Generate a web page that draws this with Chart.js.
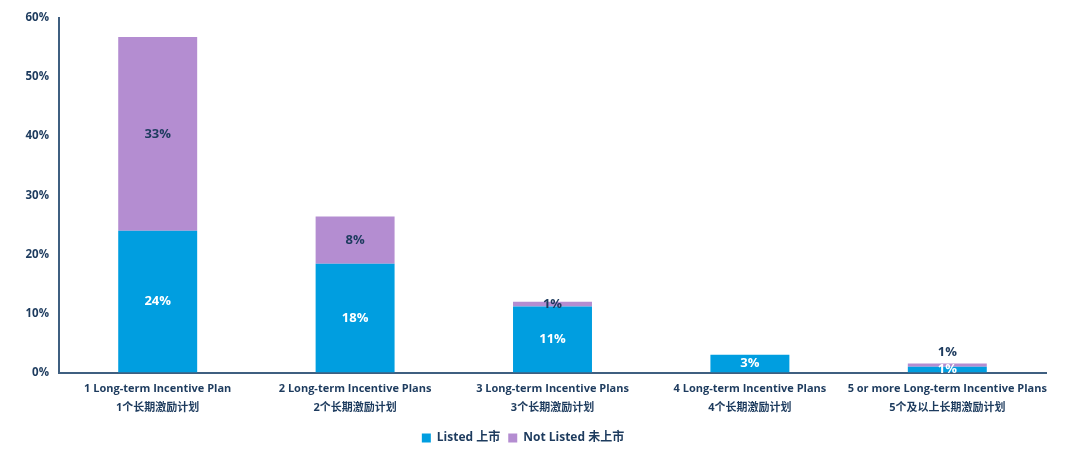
<!DOCTYPE html>
<html>
<head>
<meta charset="utf-8">
<script src="https://cdn.jsdelivr.net/npm/chart.js@4"></script>
<style>
  html, body { margin: 0; padding: 0; background: #fff; }
  #wrap { width: 1080px; height: 459px; position: relative; }
</style>
</head>
<body>
<div id="wrap"><canvas id="mainChart"></canvas></div>
<script>
const categories = [
  ['1 Long-term Incentive Plan', '1个长期激励计划'],
  ['2 Long-term Incentive Plans', '2个长期激励计划'],
  ['3 Long-term Incentive Plans', '3个长期激励计划'],
  ['4 Long-term Incentive Plans', '4个长期激励计划'],
  ['5 or more Long-term Incentive Plans', '5个及以上长期激励计划']
];
const listed = [24, 18.4, 11.2, 3.0, 1.0];
const notListed = [32.8, 8.0, 0.8, 0, 0.55];
const yTicks = [0, 10, 20, 30, 40, 50, 60];

const navy = '#1d3b5e';
const axisCol = '#3f5f80';
const fontFam = "'Open Sans', 'Noto Sans CJK SC', sans-serif";

// simple inline value labels
const valueLabels = {
  id: 'valueLabels',
  afterDatasetsDraw(chart) {
    const c = chart.ctx;
    c.save();
    c.font = 'bold 13px ' + fontFam;
    c.textAlign = 'center';
    c.textBaseline = 'middle';
    chart.data.datasets.forEach((ds, di) => {
      const meta = chart.getDatasetMeta(di);
      meta.data.forEach((bar, i) => {
        const v = ds.data[i];
        if (!v) return;
        const txt = Math.round(v) + '%';
        let y = (bar.y + bar.base) / 2;
        if (di === 0) {
          c.fillStyle = '#ffffff';
        } else {
          c.fillStyle = navy;
          // small segment on a small stack: put label above
          if (listed[i] < 5) y = bar.y - 11;
        }
        c.fillText(txt, bar.x, y);
      });
    });
    c.restore();
  }
};

new Chart(document.getElementById('mainChart'), {
  type: 'bar',
  data: {
    labels: categories,
    datasets: [
      { label: 'Listed 上市', data: listed, backgroundColor: '#009ee0', barPercentage: 0.4, categoryPercentage: 1 },
      { label: 'Not Listed 未上市', data: notListed, backgroundColor: '#b48dd1', barPercentage: 0.4, categoryPercentage: 1 }
    ]
  },
  options: {
    responsive: true,
    maintainAspectRatio: false,
    animation: false,
    layout: { padding: { top: 18, right: 34, left: 0, bottom: 5 } },
    plugins: {
      legend: {
        display: true,
        position: 'bottom',
        labels: {
          boxWidth: 9, boxHeight: 9, padding: 8,
          color: navy,
          font: { family: fontFam, size: 12, weight: 'bold' }
        }
      },
      tooltip: { enabled: false }
    },
    scales: {
      x: {
        stacked: true,
        grid: { display: false, drawTicks: false },
        border: { color: axisCol, width: 2 },
        ticks: {
          color: navy, padding: 7,
          font: { family: fontFam, size: 11, weight: 'bold', lineHeight: 1.7 },
          maxRotation: 0, autoSkip: false
        }
      },
      y: {
        stacked: true,
        min: 0, max: 60,
        grid: { display: false, drawTicks: false },
        border: { color: axisCol, width: 2 },
        afterFit(s) { s.width = 59; },
        afterBuildTicks(s) { s.ticks = yTicks.map(v => ({ value: v })); },
        ticks: {
          color: navy, padding: 10,
          font: { family: fontFam, size: 11.5, weight: 'bold' },
          callback: v => v + '%'
        }
      }
    }
  },
  plugins: [valueLabels]
});
</script>
</body>
</html>
